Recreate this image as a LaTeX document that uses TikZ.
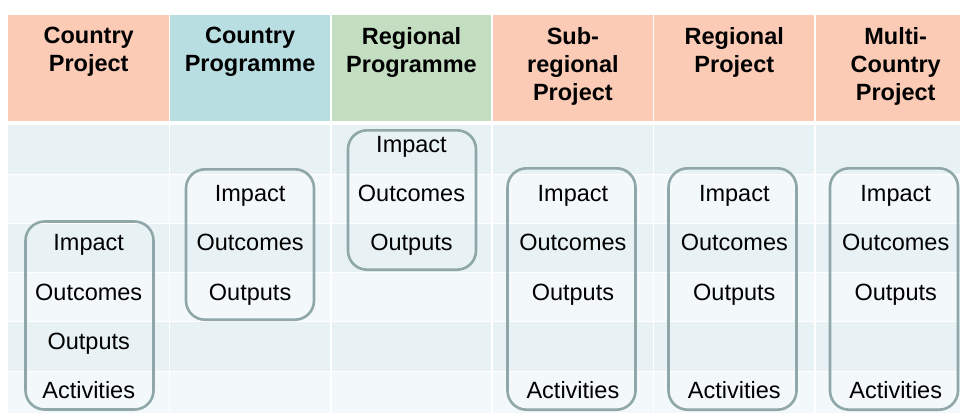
\documentclass[tikz,border=0pt]{standalone}
\usepackage{fontspec}
\setmainfont{Liberation Sans}
\usetikzlibrary{positioning}

\definecolor{projsalmon}{RGB}{251,203,182}
\definecolor{progblue}{RGB}{184,222,226}
\definecolor{progsage}{RGB}{196,222,193}
\definecolor{banddark}{RGB}{232,242,244}
\definecolor{bandlight}{RGB}{243,248,250}
\definecolor{boxline}{RGB}{143,167,169}

\begin{document}
\begin{tikzpicture}
		[x=1pt,y=-1pt,
		 head/.style={anchor=north,inner sep=0pt,align=center,font=\fontsize{23.5}{28.3}\selectfont\bfseries},
		 level/.style={anchor=base,inner sep=0pt,font=\fontsize{23.5}{28}\selectfont},
		 chain/.style={draw=boxline,line width=2.6pt,rounded corners=19pt,inner sep=0pt,minimum width=128pt}]
		\useasboundingbox (0,0) rectangle (960,412);
		\clip (0,0) rectangle (960,412);
		
		% header cells and row bands
		\foreach \i/\c in {0/projsalmon,1/progblue,2/progsage,3/projsalmon,4/projsalmon,5/projsalmon}
		\fill[\c] (8+161.4*\i,15) rectangle ++(161.4,106);
		\foreach \j/\c in {0/banddark,1/bandlight,2/banddark,3/bandlight,4/banddark,5/bandlight}
		\fill[\c] (8,125+49.2*\j) rectangle ++(970,49.2);
		\foreach \j in {1,...,5}
		\draw[white,line width=0.8pt] (8,125+49.2*\j) -- ++(970,0);
		\foreach \i in {1,...,5}
		\draw[white,line width=1.5pt] (8+161.4*\i,15) -- ++(0,400);
		
		\node[head] (h1) at (88.7,27)  {Country\\Project};
		\node[head] (h2) at (250.1,27) {Country\\Programme};
		\node[head] (h3) at (411.5,27) {Regional\\Programme};
		\node[head] (h4) at (572.9,27) {Sub-\\regional\\Project};
		\node[head] (h5) at (734.3,27) {Regional\\Project};
		\node[head] (h6) at (895.7,27) {Multi-\\Country\\Project};
		
		% rounded frames round each chain of results
		\node[chain,minimum height=188pt]   (b1) at (89.5,315.5) {};
		\node[chain,minimum height=150.4pt] (b2) at (250,244.5)  {};
		\node[chain,minimum height=139.4pt] (b3) at (412,200)    {};
		\node[chain,minimum height=241.4pt] (b4) at (571.5,289)  {};
		\node[chain,minimum height=241.4pt] (b5) at (732.5,289)  {};
		\node[chain,minimum height=241.4pt] (b6) at (894,289)    {};
		
		% column/row/label
		\foreach \i/\j/\lbl in {1/3/Impact,1/4/Outcomes,1/5/Outputs,1/6/Activities,
			2/2/Impact,2/3/Outcomes,2/4/Outputs,
			3/1/Impact,3/2/Outcomes,3/3/Outputs,
			4/2/Impact,4/3/Outcomes,4/4/Outputs,4/6/Activities,
			5/2/Impact,5/3/Outcomes,5/4/Outputs,5/6/Activities,
			6/2/Impact,6/3/Outcomes,6/4/Outputs,6/6/Activities}
		\node[level] (t\i-\j) at (8+161.4*\i-80.7,125+49.2*\j-21.7) {\lbl};
		\end{tikzpicture}
\end{document}
